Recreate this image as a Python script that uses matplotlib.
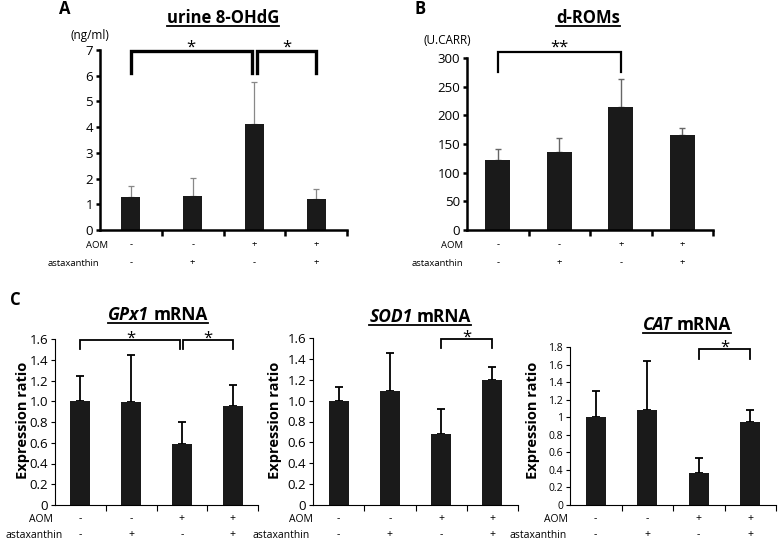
import matplotlib
matplotlib.use("Agg")
import matplotlib.pyplot as plt
from matplotlib.lines import Line2D
from matplotlib.ticker import FuncFormatter

plt.rcParams['font.family'] = ['Open Sans', 'DejaVu Sans']

aom = ['-', '-', '+', '+']
asta = ['-', '+', '-', '+']

ohdg_mean = [1.30, 1.32, 4.11, 1.19]
ohdg_err = [0.41, 0.72, 1.65, 0.41]

droms_mean = [122, 136, 214, 165]
droms_err = [20, 25, 49, 13]

gpx_mean = [1.00, 0.99, 0.59, 0.956]
gpx_err = [0.24, 0.455, 0.21, 0.204]

sod_mean = [1.00, 1.093, 0.68, 1.196]
sod_err = [0.135, 0.362, 0.24, 0.122]

cat_mean = [1.00, 1.085, 0.365, 0.94]
cat_err = [0.30, 0.555, 0.175, 0.14]

W, H = 778, 540
fig = plt.figure(figsize=(W / 100, H / 100), dpi=100)


def make_axes(rect, means, errs, ylim, yticks, width, ecolor, elw, cap, tick_fs, spine_lw):
    ax = fig.add_axes(rect)
    x = list(range(len(means)))
    ax.bar(x, means, width=width, color='#1a1a1a', zorder=2)
    ax.errorbar(x, means, yerr=[[0] * len(errs), errs], fmt='none',
                ecolor=ecolor, elinewidth=elw, capsize=cap, capthick=elw, zorder=1)
    ax.set_xlim(-0.5, 3.5)
    ax.set_ylim(*ylim)
    ax.set_yticks(yticks)
    ax.set_xticks([0.5, 1.5, 2.5, 3.5])
    ax.set_xticklabels([])
    ax.spines['top'].set_visible(False)
    ax.spines['right'].set_visible(False)
    ax.spines['left'].set_linewidth(spine_lw)
    ax.spines['bottom'].set_linewidth(spine_lw)
    ax.tick_params(axis='y', direction='out', length=3, width=spine_lw,
                   labelsize=tick_fs, pad=2)
    ax.tick_params(axis='x', direction='out', length=4, width=spine_lw)
    return ax


def rows(ax, aom_dx, asta_dx, y1, y2, fs):
    ax.annotate('AOM', xy=(0, 0), xycoords='axes fraction', xytext=(aom_dx, -y1),
                textcoords='offset pixels', ha='right', va='center', fontsize=fs)
    ax.annotate('astaxanthin', xy=(0, 0), xycoords='axes fraction', xytext=(asta_dx, -y2),
                textcoords='offset pixels', ha='right', va='center', fontsize=fs)
    for i in range(4):
        ax.annotate(aom[i], xy=(i, 0), xycoords=('data', 'axes fraction'), xytext=(0, -y1),
                    textcoords='offset pixels', ha='center', va='center', fontsize=fs)
        ax.annotate(asta[i], xy=(i, 0), xycoords=('data', 'axes fraction'), xytext=(0, -y2),
                    textcoords='offset pixels', ha='center', va='center', fontsize=fs)


def bracket(ax, x1, x2, ylow, yhigh, lw, label, dy, fs):
    ax.plot([x1, x1, x2, x2], [ylow, yhigh, yhigh, ylow], color='k', lw=lw,
            clip_on=False, solid_joinstyle='miter')
    ax.annotate(label, xy=((x1 + x2) / 2, yhigh), xytext=(0, dy), textcoords='offset pixels',
                ha='center', va='baseline', fontsize=fs, annotation_clip=False)


def title(px, py, parts, fs):
    # parts: list of (text, style); centred at pixel px, baseline at pixel py from top
    r = fig.canvas.get_renderer()
    arts, widths = [], []
    for s, st in parts:
        t = fig.text(0, 0, s, fontsize=fs, fontweight='bold', style=st,
                     ha='left', va='baseline')
        widths.append(t.get_window_extent(r).width)
        arts.append(t)
    gap = 4
    total = sum(widths) + gap * (len(parts) - 1)
    x = px - total / 2
    for t, w in zip(arts, widths):
        t.set_position((x / W, 1 - py / H))
        x += w + gap
    uy = 1 - (py + 3) / H
    fig.add_artist(Line2D([(px - total / 2) / W, (px + total / 2) / W], [uy, uy],
                          color='k', lw=1.3))


# Panel A
axA = make_axes([100 / W, 1 - 230 / H, 247 / W, 180 / H], ohdg_mean, ohdg_err,
                (0, 7), range(0, 8), 0.31, '#888888', 0.9, 2, 9.5, 1.8)
rows(axA, 8, -1, 15, 33, 6.8)
bracket(axA, 0, 1.955, 6.1, 6.95, 2.4, '*', 0, 12)
bracket(axA, 2.045, 3, 6.1, 6.95, 2.4, '*', 0, 12)
fig.text(90 / W, 1 - 35 / H, '(ng/ml)', ha='center', va='center', fontsize=8.5)
fig.text(65 / W, 1 - 9 / H, 'A', ha='center', va='center', fontsize=12, fontweight='bold')

# Panel B
axB = make_axes([467 / W, 1 - 230 / H, 246 / W, 172 / H], droms_mean, droms_err,
                (0, 300), range(0, 301, 50), 0.41, '#666666', 1.0, 2, 9.5, 1.8)
rows(axB, -4, -4, 15, 33, 6.8)
bracket(axB, 0, 2, 275, 311, 1.6, '**', 0, 12)
fig.text(447 / W, 1 - 40 / H, '(U.CARR)', ha='center', va='center', fontsize=8.5)
fig.text(420 / W, 1 - 9 / H, 'B', ha='center', va='center', fontsize=12, fontweight='bold')

# Panel C
fmt1 = FuncFormatter(lambda v, p: '0' if abs(v) < 1e-9 else f'{v:.1f}')
fmt2 = FuncFormatter(lambda v, p: f'{v:g}')
ticks16 = [0, 0.2, 0.4, 0.6, 0.8, 1.0, 1.2, 1.4, 1.6]
ticks18 = [0, 0.2, 0.4, 0.6, 0.8, 1.0, 1.2, 1.4, 1.6, 1.8]

axC1 = make_axes([55 / W, 1 - 505 / H, 203 / W, 166 / H], gpx_mean, gpx_err,
                 (0, 1.6), ticks16, 0.39, 'k', 1.3, 3, 9.5, 0.8)
axC1.yaxis.set_major_formatter(fmt1)
rows(axC1, -2, 8, 14, 30, 7.5)
bracket(axC1, 0, 1.97, 1.50, 1.59, 1.3, '*', -3, 12)
bracket(axC1, 2.03, 3, 1.50, 1.59, 1.3, '*', -3, 12)

axC2 = make_axes([313 / W, 1 - 505 / H, 205 / W, 167 / H], sod_mean, sod_err,
                 (0, 1.6), ticks16, 0.39, 'k', 1.3, 3, 9.5, 0.8)
axC2.yaxis.set_major_formatter(fmt1)
rows(axC2, 0, -3, 14, 30, 7.5)
bracket(axC2, 2, 3, 1.50, 1.59, 1.3, '*', -3, 12)

axC3 = make_axes([570 / W, 1 - 505 / H, 206 / W, 158 / H], cat_mean, cat_err,
                 (0, 1.8), ticks18, 0.38, 'k', 1.3, 3, 7.5, 0.8)
axC3.yaxis.set_major_formatter(fmt2)
rows(axC3, -2, -3, 14, 30, 7.5)
bracket(axC3, 2, 3, 1.66, 1.776, 1.3, '*', -3, 12)

for ax, xl in [(axC1, 23), (axC2, 275), (axC3, 533)]:
    fig.text(xl / W, 1 - 420 / H, 'Expression ratio', rotation=90, ha='center',
             va='center', fontsize=10.5, fontweight='bold')

fig.text(15 / W, 1 - 300 / H, 'C', ha='center', va='center', fontsize=12, fontweight='bold')

title(223, 23, [('urine 8-OHdG', 'normal')], 12)
title(588, 23, [('d-ROMs', 'normal')], 12)
title(158, 320, [('GPx1', 'italic'), ('mRNA', 'normal')], 12.5)
title(420, 322, [('SOD1', 'italic'), ('mRNA', 'normal')], 12.5)
title(687, 330, [('CAT', 'italic'), ('mRNA', 'normal')], 12.5)

plt.savefig('out.png', dpi=100)
